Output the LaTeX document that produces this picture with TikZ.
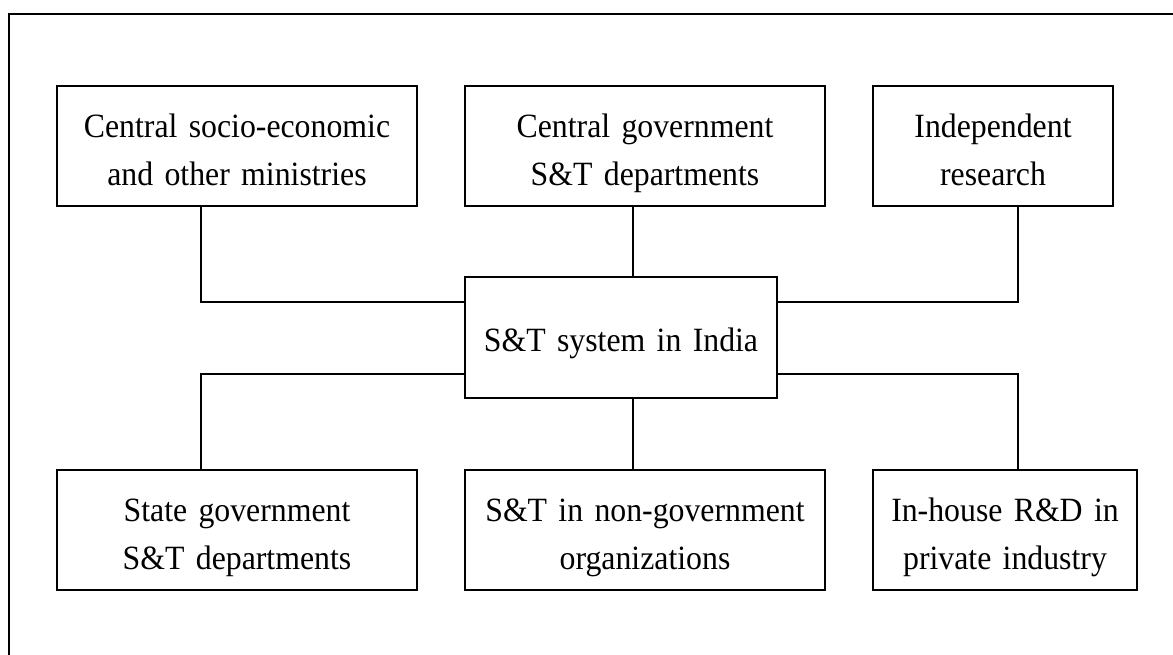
\documentclass[tikz,border=0pt]{standalone}
\usepackage{fontspec}
\setmainfont{Liberation Serif}[FakeStretch=0.935]
\begin{document}
\begin{tikzpicture}[x=1pt,y=1pt,
  orgbox/.style={draw, line width=1.3pt, inner sep=0pt, align=center,
    minimum height=120pt, text height=23pt, text depth=39.6pt,
    font={\fontsize{34}{47.7}\selectfont}},
  ctrbox/.style={orgbox, minimum height=121pt, text height=28pt, text depth=0pt},
  link/.style={line width=1.3pt}]
\useasboundingbox (0,0) rectangle (1173,655);
% outer frame (open at right and bottom)
\draw[link] (9,-2) -- (9,641) -- (1176,641);
% top row
\node[orgbox, text width=360pt] (b1) at (237,509) {Central socio-economic\\and other ministries};
\node[orgbox, text width=360pt] (b2) at (645,509) {Central government\\S\&T departments};
\node[orgbox, text width=240pt] (b3) at (993,509) {Independent\\research};
% centre
\node[ctrbox, text width=312pt] (c) at (621,317.5) {S\&T system in India};
% bottom row
\node[orgbox, text width=360pt] (b4) at (237,125) {State government\\S\&T departments};
\node[orgbox, text width=360pt] (b5) at (645,125) {S\&T in non-government\\organizations};
\node[orgbox, text width=264pt] (b6) at (1005,125) {In-house R\&D in\\private industry};
% routing coordinates
\coordinate (ul) at (201,353);
\coordinate (ur) at (1018,353);
\coordinate (ll) at (201,281);
\coordinate (lr) at (1018,281);
\coordinate (mid) at (633,0);
% connectors
\draw[link] (b1.south -| ul) |- (c.west |- ul);
\draw[link] (b2.south -| mid) -- (c.north -| mid);
\draw[link] (b3.south -| ur) |- (c.east |- ur);
\draw[link] (c.west |- ll) -| (b4.north -| ll);
\draw[link] (c.south -| mid) -- (b5.north -| mid);
\draw[link] (c.east |- lr) -| (b6.north -| lr);
\end{tikzpicture}
\end{document}
